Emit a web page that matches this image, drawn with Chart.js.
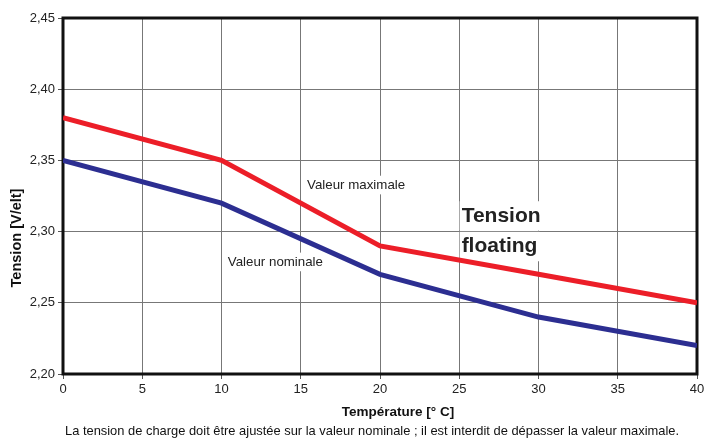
<!DOCTYPE html>
<html>
<head>
<meta charset="utf-8">
<script src="https://cdn.jsdelivr.net/npm/chart.js@4"></script>
<style>
  html, body { margin: 0; padding: 0; background: #fff; }
  #wrap { width: 705px; height: 438px; }
</style>
</head>
<body>
<div id="wrap"><canvas id="chart" width="705" height="438"></canvas></div>
<script>
// températures [°C] et tensions de floating [V/elt]
const temps = [0, 10, 20, 30, 40];
const valeurMax = [2.38, 2.35, 2.29, 2.27, 2.25];
const valeurNom = [2.35, 2.32, 2.27, 2.24, 2.22];
const xTicks = [0, 5, 10, 15, 20, 25, 30, 35, 40];
const yTicks = [2.20, 2.25, 2.30, 2.35, 2.40, 2.45];

const FONT = '"Liberation Sans", Arial, sans-serif';

// annotations placées en coordonnées de données
const notes = [
	{ text: 'Valeur maximale', x: 15.4, y: 2.3327, size: 13.3, bold: false },
	{ text: 'Valeur nominale', x: 10.4, y: 2.2787, size: 13.3, bold: false },
	{ text: 'Tension', x: 25.15, y: 2.311, size: 21, bold: true },
	{ text: 'floating', x: 25.15, y: 2.2895, size: 21, bold: true }
];

const decor = {
	id: 'decor',
	beforeDatasetsDraw(chart) {
		const { ctx, chartArea: a, scales } = chart;
		ctx.save();
		ctx.textBaseline = 'middle';
		ctx.textAlign = 'left';
		notes.forEach(n => {
			ctx.font = (n.bold ? 'bold ' : '') + n.size + 'px ' + FONT;
			const px = scales.x.getPixelForValue(n.x);
			const py = scales.y.getPixelForValue(n.y);
			const w = ctx.measureText(n.text).width;
			ctx.fillStyle = '#fff';
			ctx.fillRect(px - 2, py - n.size * 0.7, w + 4, n.size * 1.4);
			ctx.fillStyle = '#222';
			ctx.fillText(n.text, px, py);
		});
		// cadre noir
		ctx.strokeStyle = '#111';
		ctx.lineWidth = 3;
		ctx.strokeRect(a.left, a.top, a.right - a.left, a.bottom - a.top);
		ctx.restore();
	},
	afterDraw(chart) {
		const { ctx } = chart;
		ctx.save();
		ctx.fillStyle = '#111';
		ctx.textBaseline = 'middle';
		ctx.textAlign = 'center';
		ctx.font = 'bold 13.5px ' + FONT;
		ctx.fillText('Température [° C]', 398, 412);
		ctx.font = '12.9px ' + FONT;
		ctx.fillText('La tension de charge doit être ajustée sur la valeur nominale ; il est interdit de dépasser la valeur maximale.', 372, 431);
		ctx.translate(17, 238);
		ctx.rotate(-Math.PI / 2);
		ctx.font = 'bold 14.5px ' + FONT;
		ctx.fillText('Tension [V/elt]', 0, 0);
		ctx.restore();
	}
};

new Chart(document.getElementById('chart'), {
	type: 'line',
	data: {
		datasets: [
			{
				label: 'Valeur maximale',
				data: temps.map((t, i) => ({ x: t, y: valeurMax[i] })),
				borderColor: 'rgb(236, 30, 40)',
				borderWidth: 5,
				pointRadius: 0,
				tension: 0
			},
			{
				label: 'Valeur nominale',
				data: temps.map((t, i) => ({ x: t, y: valeurNom[i] })),
				borderColor: 'rgb(44, 46, 145)',
				borderWidth: 5,
				pointRadius: 0,
				tension: 0
			}
		]
	},
	options: {
		responsive: false,
		animation: false,
		layout: { padding: { top: 18, right: 8, left: 0, bottom: 0 } },
		plugins: {
			legend: { display: false },
			tooltip: { enabled: false }
		},
		scales: {
			x: {
				type: 'linear',
				min: 0,
				max: 40,
				afterBuildTicks: s => { s.ticks = xTicks.map(v => ({ value: v })); },
				afterFit: s => { s.height = 64; s.paddingRight = 0; },
				grid: { color: '#777', lineWidth: 1, tickLength: 5, tickColor: '#555' },
				border: { display: false },
				ticks: {
					color: '#222',
					font: { family: FONT, size: 13 },
					padding: 3,
					maxRotation: 0
				}
			},
			y: {
				min: 2.2,
				max: 2.45,
				afterBuildTicks: s => { s.ticks = yTicks.map(v => ({ value: v })); },
				afterFit: s => { s.width = 63; },
				grid: { color: '#777', lineWidth: 1, tickLength: 5, tickColor: '#555' },
				border: { display: false },
				ticks: {
					color: '#222',
					font: { family: FONT, size: 13 },
					padding: 3,
					callback: v => v.toFixed(2).replace('.', ',')
				}
			}
		}
	},
	plugins: [decor]
});
</script>
</body>
</html>
